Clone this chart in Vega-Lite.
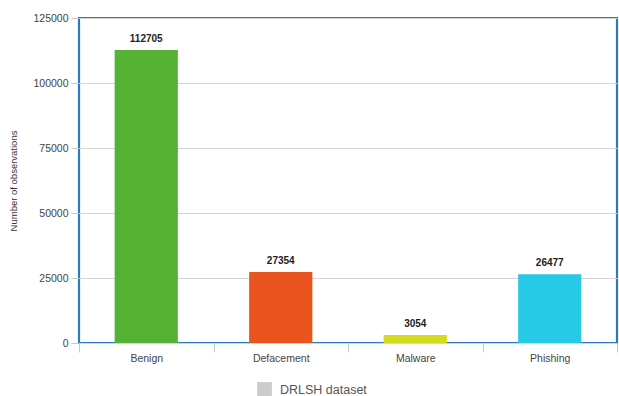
{
  "$schema": "https://vega.github.io/schema/vega-lite/v6.json",
  "width": 538,
  "height": 325,
  "autosize": "none",
  "padding": {"left": 79, "top": 18, "right": 2, "bottom": 53},
  "background": "white",
  "config": {
    "font": "Liberation Sans",
    "view": {"stroke": "#2b7bc3", "strokeWidth": 2.2}
  },
  "data": {
    "values": [
      {"category": "Benign", "count": 112705, "label": "112705"},
      {"category": "Defacement", "count": 27354, "label": "27354"},
      {"category": "Malware", "count": 3054, "label": "3054"},
      {"category": "Phishing", "count": 26477, "label": "26477"}
    ]
  },
  "encoding": {
    "x": {
      "field": "category",
      "type": "nominal",
      "sort": null,
      "scale": {"paddingInner": 0, "paddingOuter": 0},
      "axis": {
        "title": null,
        "domain": false,
        "labelAngle": 0,
        "labelFontSize": 10.5,
        "labelColor": "#444",
        "labelPadding": 1,
        "tickBand": "extent",
        "tickColor": "#c8c8c8",
        "tickSize": 9,
        "ticks": true
      }
    },
    "y": {
      "field": "count",
      "type": "quantitative",
      "scale": {"domain": [0, 125000], "nice": false},
      "axis": {
        "title": "Number of observations",
        "titleFontSize": 9.5,
        "titleFontWeight": "normal",
        "titleColor": "#333",
        "titlePadding": 14,
        "values": [0, 25000, 50000, 75000, 100000, 125000],
        "format": "d",
        "domain": false,
        "labelFontSize": 10.5,
        "labelColor": "#444",
        "labelPadding": 3,
        "tickColor": "#c8c8c8",
        "tickSize": 8,
        "gridColor": "#d4d4d4",
        "gridWidth": 1.2
      }
    }
  },
  "layer": [
    {
      "mark": {"type": "bar", "width": {"band": 0.47}},
      "encoding": {
        "color": {
          "field": "category",
          "type": "nominal",
          "scale": {
            "domain": ["Benign", "Defacement", "Malware", "Phishing", "DRLSH dataset"],
            "range": ["#55b234", "#ea541e", "#d3dc1c", "#27c9e4", "#cccccc"]
          },
          "legend": {
            "values": ["DRLSH dataset"],
            "title": null,
            "orient": "none",
            "legendX": 178,
            "legendY": 364,
            "symbolType": "square",
            "symbolSize": 220,
            "symbolStrokeWidth": 0,
            "labelFontSize": 12.5,
            "labelColor": "#555",
            "labelOffset": 8
          }
        }
      }
    },
    {
      "mark": {"type": "text", "baseline": "bottom", "dy": -6, "fontWeight": "bold", "fontSize": 10, "color": "#222"},
      "encoding": {
        "text": {"field": "label"}
      }
    }
  ]
}
